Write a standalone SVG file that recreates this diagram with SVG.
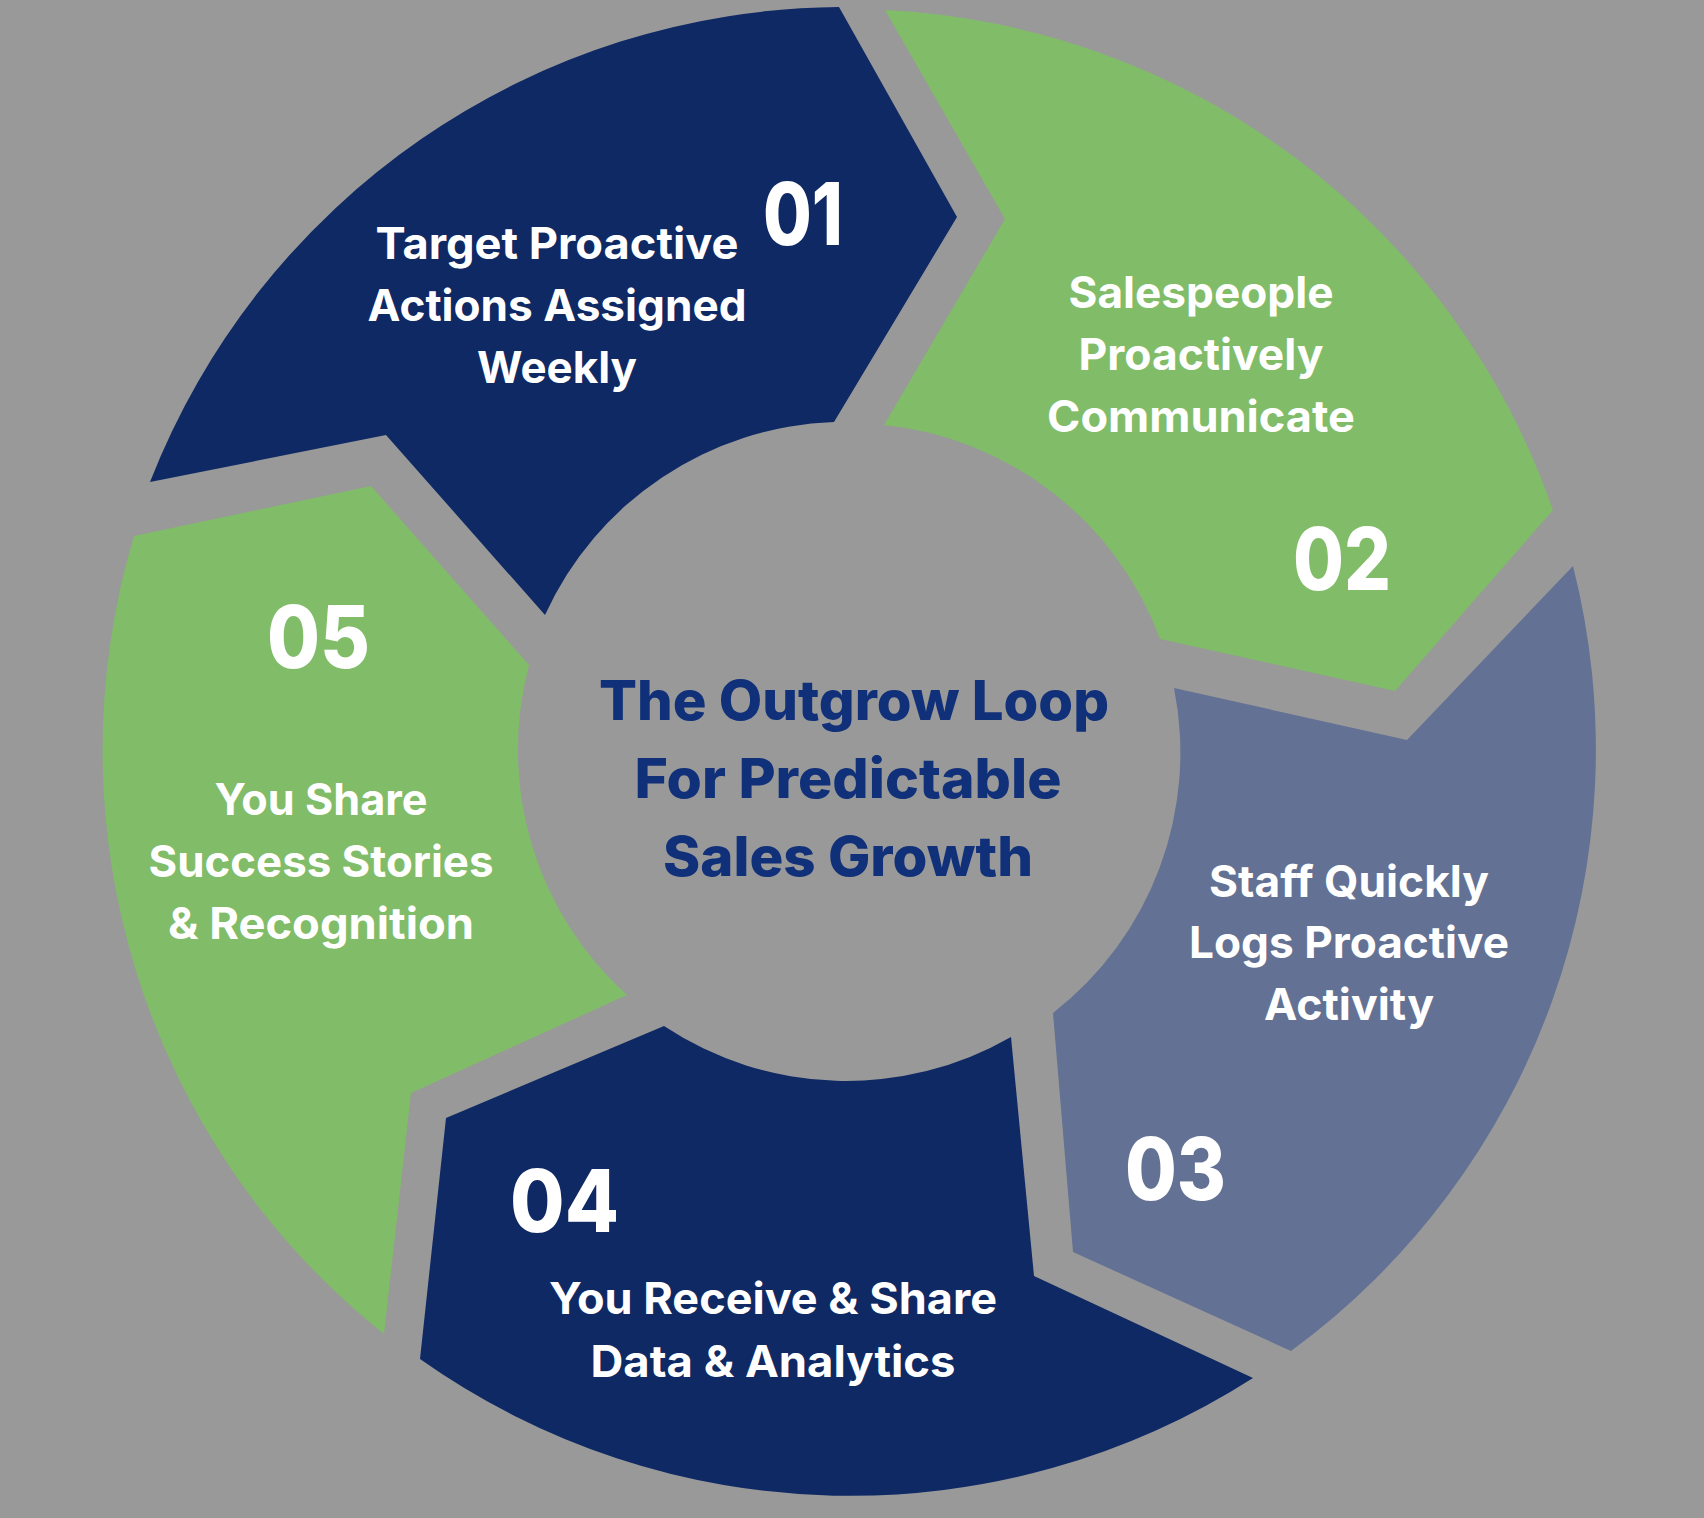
<svg xmlns="http://www.w3.org/2000/svg" width="1704" height="1518" viewBox="0 0 1704 1518">
  <style>
    .navy { fill: #0f2964; }
    .green { fill: #81bc69; }
    .slate { fill: #637294; }
    .lbl { font-family: Inter, "Noto Sans", "Liberation Sans", sans-serif; font-weight: 700; font-size: 44px; fill: #ffffff; text-anchor: middle; }
    .num { font-family: Inter, "Noto Sans", "Liberation Sans", sans-serif; font-weight: 800; font-size: 86px; fill: #ffffff; }
    .title { font-family: Inter, "Noto Sans", "Liberation Sans", sans-serif; font-weight: 800; font-size: 55px; fill: #10307a; text-anchor: middle; }
  </style>
  <rect x="0" y="0" width="1704" height="1518" fill="#999999"/>

  <g id="step-01">
    <path class="navy" d="M150,482 A746,746 0 0 1 839,7 L957,217 L834,422 A330,330 0 0 0 545,615 L386,435 Z"/>
    <text class="num" x="763" y="245" textLength="80" lengthAdjust="spacingAndGlyphs">01</text>
    <text class="lbl" x="557" y="259" textLength="363" lengthAdjust="spacingAndGlyphs">Target Proactive</text>
    <text class="lbl" x="557" y="321" textLength="379" lengthAdjust="spacingAndGlyphs">Actions Assigned</text>
    <text class="lbl" x="557" y="383" textLength="160" lengthAdjust="spacingAndGlyphs">Weekly</text>
  </g>

  <g id="step-02">
    <path class="green" d="M885,10 A746,746 0 0 1 1553,510 L1395,691 L1160,639 A330,330 0 0 0 884,425 L1005,219 Z"/>
    <text class="lbl" x="1201" y="308" textLength="265" lengthAdjust="spacingAndGlyphs">Salespeople</text>
    <text class="lbl" x="1201" y="370" textLength="245" lengthAdjust="spacingAndGlyphs">Proactively</text>
    <text class="lbl" x="1201" y="432" textLength="308" lengthAdjust="spacingAndGlyphs">Communicate</text>
    <text class="num" x="1293" y="590" textLength="98" lengthAdjust="spacingAndGlyphs">02</text>
  </g>

  <g id="step-03">
    <path class="slate" d="M1573,566 A746,746 0 0 1 1291,1351 L1073,1252 L1053,1013 A330,330 0 0 0 1174,688 L1407,740 Z"/>
    <text class="lbl" x="1349" y="897" textLength="280" lengthAdjust="spacingAndGlyphs">Staff Quickly</text>
    <text class="lbl" x="1349" y="958" textLength="320" lengthAdjust="spacingAndGlyphs">Logs Proactive</text>
    <text class="lbl" x="1349" y="1020" textLength="170" lengthAdjust="spacingAndGlyphs">Activity</text>
    <text class="num" x="1125" y="1200" textLength="101" lengthAdjust="spacingAndGlyphs">03</text>
  </g>

  <g id="step-04">
    <path class="navy" d="M1253,1378 A746,746 0 0 1 420,1359 L446,1118 L664,1026 A330,330 0 0 0 1011,1037 L1034,1276 Z"/>
    <text class="num" x="510" y="1232" textLength="109" lengthAdjust="spacingAndGlyphs">04</text>
    <text class="lbl" x="773" y="1314" textLength="448" lengthAdjust="spacingAndGlyphs">You Receive &amp; Share</text>
    <text class="lbl" x="773" y="1377" textLength="365" lengthAdjust="spacingAndGlyphs">Data &amp; Analytics</text>
  </g>

  <g id="step-05">
    <path class="green" d="M384,1334 A746,746 0 0 1 134,536 L371,486 L529,665 A330,330 0 0 0 627,995 L411,1093 Z"/>
    <text class="num" x="267" y="668" textLength="103" lengthAdjust="spacingAndGlyphs">05</text>
    <text class="lbl" x="321" y="815" textLength="213" lengthAdjust="spacingAndGlyphs">You Share</text>
    <text class="lbl" x="321" y="877" textLength="345" lengthAdjust="spacingAndGlyphs">Success Stories</text>
    <text class="lbl" x="321" y="939" textLength="306" lengthAdjust="spacingAndGlyphs">&amp; Recognition</text>
  </g>

  <g id="center-title">
    <text class="title" x="854" y="720" textLength="510" lengthAdjust="spacingAndGlyphs">The Outgrow Loop</text>
    <text class="title" x="848" y="798" textLength="427" lengthAdjust="spacingAndGlyphs">For Predictable</text>
    <text class="title" x="848" y="876" textLength="370" lengthAdjust="spacingAndGlyphs">Sales Growth</text>
  </g>

  <g id="connectors"/>
</svg>
